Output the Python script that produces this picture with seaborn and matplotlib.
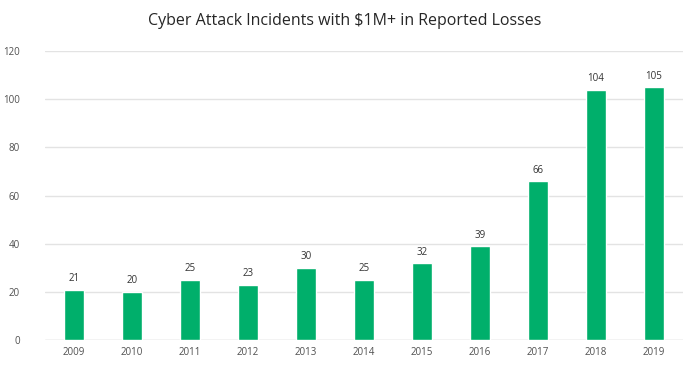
import pandas as pd
import numpy as np
import matplotlib
matplotlib.use('Agg')
import matplotlib.pyplot as plt
import seaborn as sns

years = ['2009', '2010', '2011', '2012', '2013', '2014', '2015', '2016', '2017', '2018', '2019']
incidents = [21, 20, 25, 23, 30, 25, 32, 39, 66, 104, 105]
y_ticks = [0, 20, 40, 60, 80, 100, 120]

df = pd.DataFrame({'year': years, 'incidents': incidents})

sns.set_style('white')
plt.rcParams['font.family'] = ['Open Sans', 'DejaVu Sans']

fig = plt.figure(figsize=(6.83, 3.65), dpi=100)
ax = fig.add_axes([0.066, 0.068, 0.934, 0.792])

sns.barplot(data=df, x='year', y='incidents', color='#00AF6B', width=0.34,
            saturation=1, ax=ax)

ax.set_ylim(0, 120)
ax.set_xlim(-0.5, 10.5)
ax.set_yticks(y_ticks)
ax.yaxis.grid(True, color='#e3e3e3', linewidth=1)
ax.set_axisbelow(True)
for s in ax.spines.values():
    s.set_visible(False)
ax.axhline(0, color='#d9d9d9', linewidth=1, zorder=0)
ax.tick_params(axis='both', length=0, labelsize=7, labelcolor='#505050')
ax.tick_params(axis='x', pad=5)
ax.tick_params(axis='y', pad=18)
ax.set_xlabel('')
ax.set_ylabel('')

# value labels above bars
ax.bar_label(ax.containers[0], labels=[str(v) for v in incidents],
             padding=4, fontsize=7, color='#333333')

fig.suptitle('Cyber Attack Incidents with $1M+ in Reported Losses',
             x=0.505, y=0.965, fontsize=11.5, color='#262626')

fig.savefig('out.png', dpi=100)
